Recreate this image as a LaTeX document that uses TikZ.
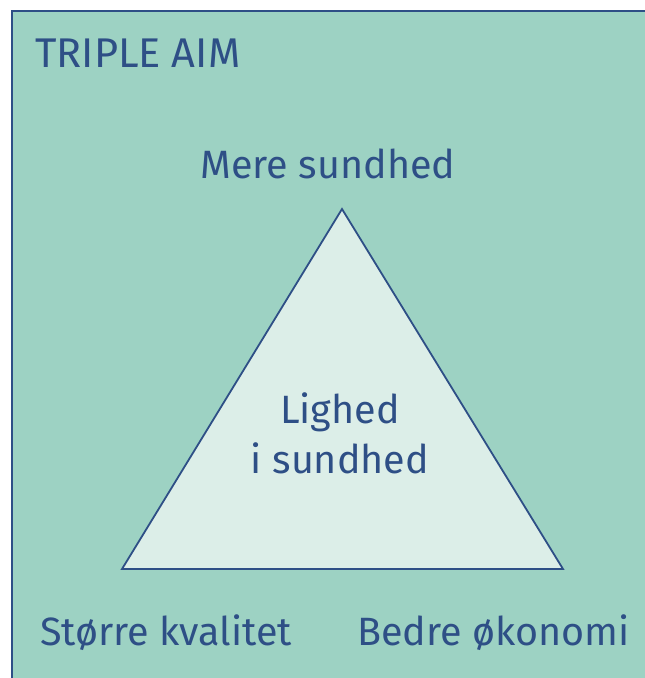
\documentclass[tikz,border=0pt]{standalone}
\usepackage{fontspec}
\setmainfont{Fira Sans}
\definecolor{panel}{HTML}{9DD2C3}
\definecolor{inner}{HTML}{DCEEE8}
\definecolor{ink}{HTML}{2E4F86}
\begin{document}
\begin{tikzpicture}[x=1pt,y=-1pt,
  label/.style={text=ink,inner sep=0pt,font=\fontsize{39.5}{44}\selectfont},
  heading/.style={label,font=\fontsize{41.5}{46}\selectfont}]
\useasboundingbox (0,0) rectangle (645,678);
% panel, running off the right and bottom edges
\fill[white] (0,0) rectangle (645,678);
\filldraw[fill=panel,draw=ink,line width=2.6pt] (12,11) rectangle (660,700);
\node[heading,anchor=base west] (title) at (35,67) {TRIPLE AIM};
% triangle
\coordinate (top) at (342,209);
\coordinate (bl) at (122,569);
\coordinate (br) at (563,569);
\filldraw[fill=inner,draw=ink,line width=1.8pt,line join=miter] (top) -- (bl) -- (br) -- cycle;
\node[label,anchor=base] (health) at (328,178) {Mere sundhed};
\node[label,anchor=base] (eq1) at (340,423) {Lighed};
\node[label,anchor=base] (eq2) at (340,473) {i sundhed};
\node[label,anchor=base west] (quality) at (40,645) {Større kvalitet};
\node[label,anchor=base east] (economy) at (630,645) {Bedre økonomi};
\end{tikzpicture}
\end{document}
